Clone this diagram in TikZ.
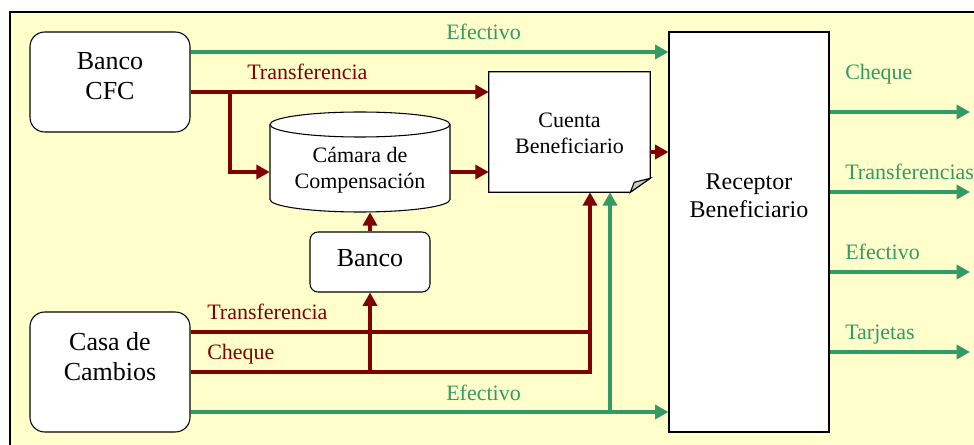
\documentclass[tikz,border=0pt]{standalone}
\usepackage{fontspec}
\setmainfont{Liberation Serif}
\usetikzlibrary{arrows.meta,calc}
\definecolor{bgy}{RGB}{255,255,204}
\definecolor{dkred}{RGB}{128,0,0}
\definecolor{seagr}{RGB}{51,153,102}
\begin{document}
\begin{tikzpicture}[x=0.75pt,y=-0.75pt,
  boxround/.style={draw,fill=white,line width=0.8pt,rounded corners=11pt,inner sep=0pt},
  boxsmall/.style={draw,fill=white,line width=0.8pt,rounded corners=6pt,inner sep=0pt},
  plain/.style={inner sep=0pt},
  bigtxt/.style={inner sep=0pt,align=center,font=\fontsize{19.5}{22.5}\selectfont},
  midtxt/.style={inner sep=0pt,align=center,font=\fontsize{16.5}{19.5}\selectfont},
  rectxt/.style={inner sep=0pt,align=center,font=\fontsize{18}{21}\selectfont},
  lblr/.style={inner sep=0pt,anchor=base west,text=dkred,font=\fontsize{16.5}{19.5}\selectfont},
  lblg/.style={inner sep=0pt,anchor=base west,text=seagr,font=\fontsize{16.5}{19.5}\selectfont},
  rar/.style={draw=dkred,line width=3pt,line join=miter,-{Triangle[length=10pt,width=10.5pt]}},
  rln/.style={draw=dkred,line width=3pt,line join=miter},
  gar/.style={draw=seagr,line width=3pt,line join=miter,-{Triangle[length=10pt,width=10.5pt]}},
  gln/.style={draw=seagr,line width=3pt,line join=miter}
]
\useasboundingbox (0,0) rectangle (974,445);
% background frame
\draw[fill=bgy,line width=0.8pt] (10,12) rectangle (995,470);

% nodes
\node[boxround,minimum width=120pt,minimum height=75pt] (cfc) at (110,82) {};
\node[bigtxt] (cfcT) at (110,76.5) {Banco\\CFC};
\node[boxround,minimum width=120pt,minimum height=90pt] (cas) at (110,372) {};
\node[bigtxt] (casT) at (110,356.5) {Casa de\\Cambios};
\node[boxsmall,minimum width=90pt,minimum height=45pt] (ban) at (370,262) {};
\node[bigtxt] (banT) at (370,258.5) {Banco};
\node[plain,minimum width=135pt,minimum height=75pt] (cam) at (360,162) {};
\path[fill=white,draw,line width=0.8pt] (270,124.5) -- (270,199.5)
  .. controls (270,206.4) and (310.3,212) .. (360,212)
  .. controls (409.7,212) and (450,206.4) .. (450,199.5) -- (450,124.5);
\draw[fill=white,line width=0.8pt] (360,124.5) ellipse [x radius=67.5pt,y radius=9.375pt];
\node[midtxt] (camT) at (360,170) {Cámara de\\Compensación};
\node[plain,minimum width=120.75pt,minimum height=90pt] (cue) at (569.5,132) {};
\path[fill=white,draw,line width=0.8pt] (cue.north west) -- (cue.north east)
  -- ($(cue.south east)+(0,-14)$) -- ($(cue.south east)+(-20,0)$) -- (cue.south west) -- cycle;
\path[fill=gray!40,draw,line width=0.8pt] ($(cue.south east)+(0,-14)$) -- ($(cue.south east)+(-16,-10)$) -- ($(cue.south east)+(-20,0)$) -- cycle;
\node[midtxt] (cueT) at (569.5,133) {Cuenta\\Beneficiario};
\node[draw,fill=white,line width=0.8pt,inner sep=0pt,minimum width=120pt,minimum height=300pt] (rec) at (749,232) {};
\node[rectxt] (recT) at (749,196) {Receptor\\Beneficiario};

% coordinates
\coordinate (br1) at (230,92);
\coordinate (br2) at (370,372);
\coordinate (rj) at (590,372);
\coordinate (gj) at (610,412);
\coordinate (o1) at (970,112);
\coordinate (o2) at (970,192);
\coordinate (o3) at (970,272);
\coordinate (o4) at (970,352);

% connectors
\draw[gar] (cfc.east |- 0,52) -- (rec.west |- 0,52);
\draw[rar] (cfc.east |- 0,92) -- (cue.west |- 0,92);
\draw[rar] (br1) -- (br1 |- 0,172) -- (cam.west |- 0,172);
\draw[rar] (cam.east |- 0,172) -- (cue.west |- 0,172);
\draw[rar] (cue.east |- 0,152) -- (rec.west |- 0,152);
\draw[rar] (ban.north) -- (ban.north |- cam.south);
\draw[rar] (br2) -- (ban.south);
\draw[rln] (cas.east |- 0,332) -- (rj |- 0,332);
\draw[rar] (cas.east |- 0,372) -- (rj) -- (rj |- cue.south);
\draw[gar] (cas.east |- 0,412) -- (rec.west |- 0,412);
\draw[gar] (gj) -- (gj |- cue.south);
\draw[gar] (rec.east |- o1) -- (o1);
\draw[gar] (rec.east |- o2) -- (o2);
\draw[gar] (rec.east |- o3) -- (o3);
\draw[gar] (rec.east |- o4) -- (o4);

% labels
\node[lblg] (l1) at (446,40) {Efectivo};
\node[lblr] (l2) at (247,80) {Transferencia};
\node[lblg] (l3) at (845,80) {Cheque};
\node[lblg] (l4) at (845,180) {Transferencias};
\node[lblg] (l5) at (845,260) {Efectivo};
\node[lblg] (l6) at (845,339) {Tarjetas};
\node[lblr] (l7) at (207,320) {Transferencia};
\node[lblr] (l8) at (207,359) {Cheque};
\node[lblg] (l9) at (446,400) {Efectivo};
\end{tikzpicture}
\end{document}
